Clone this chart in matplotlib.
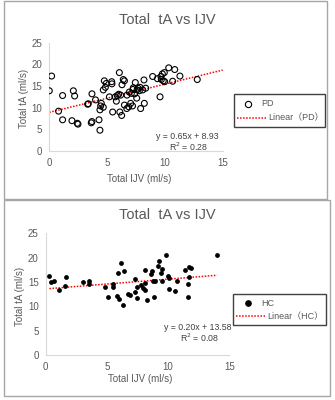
import matplotlib
matplotlib.use("Agg")
import matplotlib.pyplot as plt
from matplotlib.patches import Rectangle
from matplotlib.lines import Line2D
import numpy as np

plt.rcParams['font.family'] = ['Liberation Sans', 'Noto Sans CJK JP', 'DejaVu Sans']

# PD group: Total IJV vs Total tA
pd_ijv = [0.0, 0.2, 0.8, 1.15, 1.15, 1.96, 2.08, 2.19, 2.42, 2.48, 3.32, 3.37, 3.63, 3.69,
          3.69, 4.0, 4.3, 4.38, 4.38, 4.44, 4.5, 4.67, 4.67, 4.76, 4.85, 4.93, 5.2, 5.4,
          5.42, 5.48, 5.7, 5.8, 5.88, 6.0, 6.06, 6.1, 6.17, 6.26, 6.29, 6.4, 6.5, 6.5,
          6.7, 6.72, 6.87, 6.92, 7.04, 7.1, 7.2, 7.24, 7.27, 7.38, 7.44, 7.56, 7.59, 7.67,
          7.79, 7.85, 7.9, 8.08, 8.19, 8.22, 8.34, 8.94, 9.35, 9.58, 9.66, 9.69, 9.78,
          9.86, 9.95, 9.98, 10.33, 10.67, 10.85, 11.3, 12.8]
pd_ta = [13.9, 17.3, 9.2, 12.8, 7.2, 7.0, 13.9, 12.7, 6.4, 6.2, 10.8, 10.9, 6.5, 6.8,
         13.2, 11.8, 7.2, 4.8, 9.5, 10.4, 11.0, 10.1, 14.1, 16.2, 14.7, 15.6, 12.5, 16.0,
         15.5, 9.0, 12.5, 11.5, 12.8, 13.1, 18.1, 9.0, 12.9, 8.2, 15.3, 16.5, 16.2, 10.6,
         9.8, 12.9, 10.2, 13.6, 11.0, 13.3, 10.4, 14.2, 14.6, 13.2, 15.8, 12.2, 14.1, 14.5,
         13.9, 14.7, 9.8, 14.1, 16.4, 11.0, 14.5, 17.2, 16.7, 12.5, 17.2, 16.5, 17.8,
         16.2, 18.1, 16.0, 19.2, 16.1, 18.8, 17.3, 16.5]

# HC group
hc_ijv = [0.3, 0.44, 0.71, 1.09, 1.58, 1.63, 3.08, 3.51, 3.51, 4.85, 5.12, 5.47, 5.53,
          5.85, 5.91, 6.02, 6.13, 6.29, 6.4, 6.72, 6.89, 7.27, 7.27, 7.43, 7.49, 7.81,
          7.98, 8.09, 8.14, 8.14, 8.25, 8.58, 8.66, 8.79, 8.85, 8.96, 9.17, 9.28, 9.45,
          9.5, 9.5, 9.83, 9.99, 10.05, 10.05, 10.56, 10.7, 11.4, 11.6, 11.65, 11.68,
          11.68, 11.9, 14.0]
hc_ta = [16.2, 14.9, 15.2, 13.3, 14.2, 16.0, 14.9, 15.2, 14.5, 13.9, 12.0, 13.9, 14.5,
         12.2, 16.9, 11.5, 19.0, 10.2, 17.2, 12.5, 12.3, 15.6, 13.0, 11.8, 13.9, 14.4,
         13.8, 13.4, 17.4, 14.7, 11.4, 16.6, 17.3, 15.1, 12.0, 15.3, 18.3, 19.4, 16.9,
         17.7, 15.2, 20.5, 16.2, 15.8, 13.6, 13.2, 15.3, 17.4, 12.0, 14.6, 16.0, 18.0,
         17.9, 20.5]

pd_fit = (0.65, 8.93, 0.28)
hc_fit = (0.20, 13.58, 0.08)

W, H = 335, 400
GREY = '#595959'
fig = plt.figure(figsize=(W / 100, H / 100), dpi=100)


def fx(px):
    return px / W


def fy(py):
    return 1 - py / H


def panel(box, ax_box, x, y, fit, line_x, open_marker, name, title_y,
          xlab_y, ylab_x, eq_xy, leg_box):
    # outer frame
    x0, y0, x1, y1 = box
    fig.patches.append(Rectangle((fx(x0), fy(y1)), fx(x1 - x0), (y1 - y0) / H,
                                 transform=fig.transFigure, fill=False,
                                 edgecolor='#a6a6a6', lw=1))
    l, t, r, b = ax_box
    ax = fig.add_axes([fx(l), fy(b), fx(r - l), (b - t) / H])
    if open_marker:
        ax.scatter(x, y, s=18, facecolors='none', edgecolors='black', linewidths=0.8, zorder=3)
    else:
        ax.scatter(x, y, s=12, color='black', linewidths=0, zorder=3)
    lx = np.array(line_x)
    ax.plot(lx, fit[0] * lx + fit[1], color='#ff0000', ls=(0, (1, 1)), lw=1.1, zorder=2)
    ax.set_xlim(0, 15)
    ax.set_ylim(0, 25)
    ax.set_xticks([0, 5, 10, 15])
    ax.set_yticks([0, 5, 10, 15, 20, 25])
    for s in ['top', 'right']:
        ax.spines[s].set_visible(False)
    for s in ['left', 'bottom']:
        ax.spines[s].set_color('#d9d9d9')
    ax.tick_params(length=0, labelsize=7, colors=GREY, pad=5)
    fig.text(fx(167), fy(title_y), 'Total  tA vs IJV', ha='center', va='center',
             fontsize=10.5, color=GREY)
    fig.text(fx((l + r) / 2 + 3), fy(xlab_y), 'Total IJV (ml/s)', ha='center',
             va='center', fontsize=7, color=GREY)
    fig.text(fx(ylab_x), fy((t + b) / 2 + 2), 'Total tA (ml/s)', ha='center',
             va='center', rotation=90, fontsize=7, color=GREY)
    ex, ey = eq_xy
    fig.text(fx(ex), fy(ey), 'y = %.2fx + %.2f' % (fit[0], fit[1]), ha='center',
             va='center', fontsize=6.3, color='#404040')
    fig.text(fx(ex + 2), fy(ey + 11), 'R$^2$ = %.2f' % fit[2], ha='center',
             va='center', fontsize=6.3, color='#404040')
    # legend box
    lx0, ly0, lx1, ly1 = leg_box
    fig.patches.append(Rectangle((fx(lx0), fy(ly1)), fx(lx1 - lx0), (ly1 - ly0) / H,
                                 transform=fig.transFigure, fill=False,
                                 edgecolor='#404040', lw=1))
    my = ly0 + (ly1 - ly0) * 0.3
    ny = ly0 + (ly1 - ly0) * 0.72
    if open_marker:
        fig.lines.append(Line2D([fx(248)], [fy(my)], marker='o', mfc='none', mec='black',
                                ms=4.5, mew=0.8, transform=fig.transFigure))
    else:
        fig.lines.append(Line2D([fx(248)], [fy(my)], marker='o', color='black',
                                ms=3.8, transform=fig.transFigure))
    fig.text(fx(261), fy(my), name, va='center', fontsize=6.5, color=GREY)
    fig.lines.append(Line2D([fx(lx0 + 3), fx(lx0 + 32)], [fy(ny), fy(ny)], color='#ff0000',
                            ls=(0, (1, 1)), lw=1.1, transform=fig.transFigure))
    fig.text(fx(lx0 + 34), fy(ny), 'Linear（%s）' % name, va='center', fontsize=6.5,
             color=GREY)


panel((4, 1, 327, 199), (49.3, 42.7, 222.7, 151), pd_ijv, pd_ta, pd_fit, [0, 15], True,
      'PD', 20, 179, 24, (187, 136), (234, 94, 325, 127))
panel((4, 200, 330, 396), (45.7, 233.3, 229.3, 355), hc_ijv, hc_ta, hc_fit, [0.3, 14.0],
      False, 'HC', 215, 379, 20, (198, 327), (233, 294, 326, 325))

fig.savefig('out.png', dpi=100)
